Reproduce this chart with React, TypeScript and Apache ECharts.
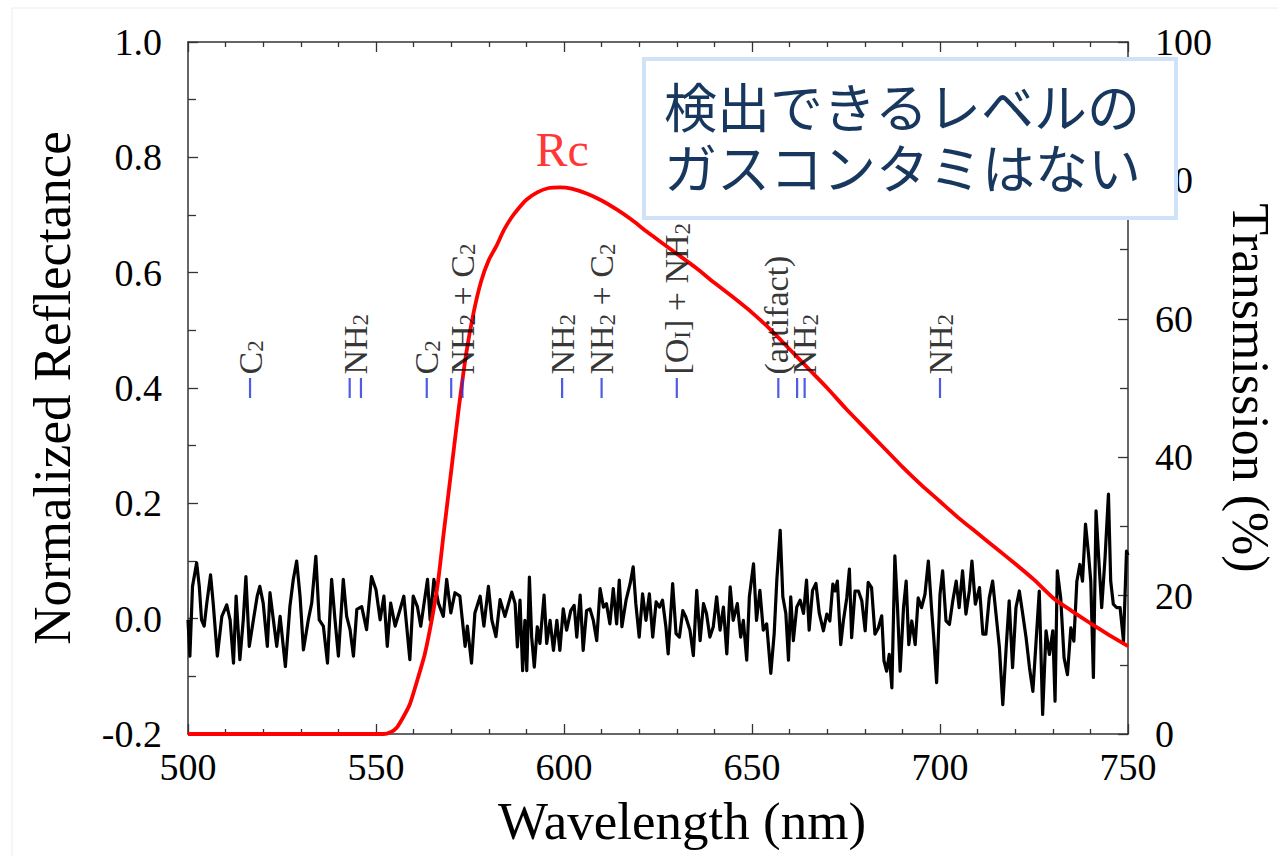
import React, { useEffect, useRef } from "react";
import * as echarts from "echarts";

// ---------- data ----------
const xMin = 500;
const xMax = 750;
const reflMin = -0.2;
const reflMax = 1.0;
const transMin = 0;
const transMax = 100;

// Normalized reflectance (black, noisy) [wavelength nm, reflectance]
const reflectanceData: [number, number][] = [
  [500.0, -0.002], [500.5, -0.065], [501.2, 0.056], [502.3, 0.097], [503.0, 0.056], [503.6, -0.002],
  [504.3, -0.013], [505.0, 0.027], [506.0, 0.076], [506.7, 0.027], [507.8, -0.065], [509.0, 0.004],
  [510.3, 0.024], [511.2, -0.002], [512.1, -0.077], [512.8, 0.039], [513.8, -0.071], [514.7, -0.002],
  [515.4, 0.073], [516.3, -0.048], [517.4, -0.002], [518.4, 0.039], [519.1, 0.056], [520.0, 0.027],
  [521.1, -0.048], [521.8, 0.045], [522.7, -0.002], [523.6, -0.048], [524.5, 0.004], [525.9, -0.083],
  [527.1, 0.021], [528.0, 0.068], [528.9, 0.1], [529.8, 0.039], [530.7, -0.054], [532.0, -0.002],
  [532.9, 0.027], [534.0, 0.108], [534.9, -0.002], [536.0, -0.013], [537.1, -0.077], [538.2, 0.068],
  [539.1, -0.002], [540.0, -0.065], [541.3, 0.068], [542.2, 0.004], [543.1, -0.019], [544.0, -0.065],
  [544.9, 0.016], [546.2, 0.021], [547.5, -0.019], [548.8, 0.073], [550.0, 0.05], [551.1, -0.002],
  [552.1, 0.039], [553.0, -0.048], [553.9, 0.027], [555.1, -0.013], [556.4, 0.016], [557.4, 0.039],
  [559.0, -0.071], [559.9, 0.039], [561.0, 0.021], [561.9, -0.013], [563.7, 0.068], [564.4, -0.002],
  [565.4, 0.068], [566.6, 0.027], [567.9, 0.004], [568.8, 0.068], [569.9, 0.01], [571.0, 0.045],
  [572.3, 0.039], [573.7, -0.048], [574.3, -0.013], [575.4, -0.077], [576.3, 0.01], [577.7, 0.039],
  [578.7, -0.013], [579.9, 0.056], [580.8, -0.002], [581.9, -0.031], [583.0, 0.033], [584.3, 0.004],
  [586.1, 0.046], [587.0, 0.026], [587.6, -0.049], [588.3, 0.032], [589.0, -0.09], [589.6, -0.003],
  [590.1, -0.09], [590.8, 0.072], [591.4, -0.032], [592.1, -0.084], [592.9, -0.014], [593.6, -0.043],
  [594.7, 0.041], [595.4, -0.043], [596.3, -0.003], [597.2, -0.055], [598.1, -0.003], [598.9, -0.055],
  [599.8, 0.017], [600.7, -0.02], [601.8, 0.014], [602.7, 0.023], [603.4, -0.032], [604.3, 0.041],
  [605.1, -0.055], [606.0, 0.014], [606.9, 0.017], [607.8, -0.003], [608.7, -0.038], [609.6, 0.052],
  [610.5, 0.02], [611.3, 0.026], [612.2, -0.009], [613.1, 0.052], [614.0, -0.009], [614.7, 0.067],
  [615.4, -0.014], [616.5, 0.032], [617.6, 0.061], [618.4, 0.09], [619.1, 0.026], [620.0, -0.032],
  [620.9, 0.043], [621.8, -0.003], [622.7, 0.043], [623.6, -0.032], [624.5, 0.029], [625.4, 0.02],
  [626.2, 0.032], [627.1, -0.014], [627.7, -0.061], [628.9, 0.061], [629.8, -0.026], [630.7, -0.032],
  [631.6, 0.014], [632.4, 0.003], [633.5, -0.02], [634.4, -0.064], [635.3, 0.049], [636.2, -0.038],
  [637.1, 0.026], [637.9, 0.009], [638.8, -0.032], [639.7, -0.014], [640.6, 0.038], [641.5, -0.02],
  [642.4, 0.02], [643.3, -0.061], [644.2, 0.055], [645.0, -0.003], [646.1, 0.026], [647.0, -0.032],
  [647.7, -0.003], [648.6, -0.072], [649.3, 0.038], [650.4, 0.095], [651.2, -0.003], [652.1, 0.049],
  [653.0, -0.02], [653.9, -0.009], [655.0, -0.095], [655.9, -0.026], [656.6, 0.067], [657.5, 0.153],
  [658.2, 0.038], [659.0, 0.009], [659.7, -0.072], [660.3, 0.038], [661.0, -0.038], [661.9, 0.02],
  [662.8, 0.032], [663.7, 0.009], [664.5, 0.067], [665.2, -0.02], [666.1, 0.049], [667.0, 0.061],
  [667.9, 0.009], [669.0, -0.021], [669.9, 0.008], [670.7, -0.004], [671.5, 0.06], [672.1, 0.048],
  [672.7, 0.065], [673.6, -0.045], [674.3, -0.004], [675.2, 0.036], [675.9, 0.086], [676.5, -0.033],
  [677.4, 0.048], [678.3, 0.048], [679.2, 0.031], [680.1, -0.021], [680.9, 0.063], [681.8, 0.054],
  [682.7, -0.027], [683.6, -0.016], [684.5, 0.005], [685.1, -0.073], [685.8, -0.091], [686.5, -0.062],
  [687.2, -0.12], [688.0, 0.109], [688.7, 0.019], [689.4, -0.091], [690.3, 0.019], [691.0, 0.065],
  [691.7, -0.045], [692.5, -0.004], [693.4, -0.045], [694.2, 0.036], [695.1, 0.019], [696.0, 0.042],
  [696.9, 0.1], [697.8, 0.013], [698.4, -0.039], [699.1, -0.111], [700.0, 0.042], [700.7, 0.083],
  [701.6, -0.004], [702.5, -0.01], [703.4, 0.031], [704.3, 0.065], [705.1, 0.019], [706.0, 0.083],
  [706.9, 0.008], [707.8, 0.048], [708.5, 0.1], [709.4, 0.025], [710.5, 0.054], [711.4, -0.027],
  [712.2, -0.027], [713.1, 0.036], [714.0, 0.065], [714.9, 0.008], [715.8, -0.05], [716.7, -0.149],
  [717.6, -0.05], [718.4, 0.031], [719.3, -0.085], [720.2, 0.019], [721.1, 0.048], [722.0, 0.008],
  [722.9, -0.033], [723.8, -0.085], [724.7, -0.126], [725.5, -0.045], [726.4, 0.048], [727.3, -0.166],
  [728.2, -0.021], [729.1, -0.062], [730.0, -0.021], [730.6, -0.143], [731.2, 0.083], [732.1, 0.036],
  [733.0, -0.068], [733.9, -0.097], [734.8, -0.016], [735.6, -0.039], [736.4, 0.065], [737.2, 0.094],
  [737.9, 0.065], [738.7, 0.164], [739.5, 0.112], [740.1, 0.065], [740.8, -0.102], [741.5, 0.187],
  [742.2, 0.106], [743.0, 0.019], [743.9, 0.106], [744.8, 0.216], [745.4, 0.065], [746.1, 0.025],
  [747.0, 0.019], [747.9, 0.019], [748.8, -0.039], [749.6, 0.117], [750.0, 0.11],
];

// Rc filter transmission (red) [wavelength nm, transmission %]
const rcTransmissionData: [number, number][] = [
  [500, 0], [552, 0], [554, 0.3], [555.5, 0.9], [557, 2.2], [559, 4.3], [561, 7.8], [563, 11.6],
  [565, 17], [566.5, 22], [568, 29], [570, 38], [572, 47], [574, 55], [576, 61], [578, 65.5],
  [580, 68.5], [582, 70.5], [584, 72.8], [586, 74.6], [588, 76], [590, 77.2], [593, 78.3],
  [596, 78.9], [599, 79], [602, 78.8], [606, 78.1], [610, 77.1], [614, 75.8], [618, 74.3],
  [622, 72.6], [626, 71], [630, 69.4], [635, 67.4], [640, 65.2], [645, 63.1], [650, 60.9],
  [655, 58.4], [660, 55.6], [665, 52.8], [670, 50], [675, 47], [680, 44.2], [685, 41.4],
  [690, 38.6], [695, 36], [700, 33.6], [705, 31.2], [710, 29], [715, 26.8], [720, 24.6],
  [725, 22.3], [730, 19.7], [735, 17.8], [740, 16], [745, 14.3], [750, 12.7],
];

// Emission line markers (blue ticks) and their identifications
const lineMarkWavelengths = [516.5, 543, 546, 563.5, 570, 573, 599.5, 610, 630, 657, 662, 664, 700];
const lineMarkLevel = 0.4;
const lineLabelWavelengths = [516.5, 544.5, 563.5, 573, 599.5, 610, 630, 656.5, 664, 700];
const lineLabelTexts = [
  "{n|C}{s|2}",
  "{n|NH}{s|2}",
  "{n|C}{s|2}",
  "{n|NH}{s|2}{n| + C}{s|2}",
  "{n|NH}{s|2}",
  "{n|NH}{s|2}{n| + C}{s|2}",
  "{n|[O}{s|I}{n|] + NH}{s|2}",
  "{n|(artifact)}",
  "{n|NH}{s|2}",
  "{n|NH}{s|2}",
];

const rcLabel = { text: "Rc", wavelength: 599.5, transmission: 84.4 };
const noteLines = ["検出できるレベルの", "ガスコンタミはない"];

const xLabel = "Wavelength (nm)";
const yLeftLabel = "Normalized Reflectance";
const yRightLabel = "Transmission (%)";

// ---------- styles ----------
const SERIF = "'Liberation Serif', 'Times New Roman', serif";
const AXIS_COLOR = "#333333";

export default function App() {
  const ref = useRef<HTMLDivElement>(null);

  useEffect(() => {
    document.body.style.margin = "0";
    const chart = echarts.init(ref.current!, null, { renderer: "svg" });

    const axisLine = { show: true, onZero: false, lineStyle: { color: AXIS_COLOR, width: 1.5 } };
    const axisTick = { show: true, inside: true, length: 10, lineStyle: { color: AXIS_COLOR, width: 1.3 } };
    const minorTickStyle = { color: AXIS_COLOR, width: 1.3 };
    const tickLabel = { color: "#000", fontFamily: SERIF, fontSize: 38 };

    const option: any = {
      animation: false,
      backgroundColor: "#ffffff",
      grid: { left: 188, right: 150, top: 42, bottom: 122, containLabel: false, outerBoundsMode: "none" },
      xAxis: [
        {
          type: "value",
          min: xMin,
          max: xMax,
          interval: 50,
          position: "bottom",
          axisLine,
          axisTick,
          minorTick: { show: true, splitNumber: 5, length: 5, lineStyle: minorTickStyle },
          splitLine: { show: false },
          axisLabel: { ...tickLabel, margin: 14 },
          name: xLabel,
          nameLocation: "middle",
          nameGap: 60,
          nameTextStyle: { color: "#000", fontFamily: SERIF, fontSize: 53, padding: [0, 0, 0, 48] },
        },
        {
          type: "value",
          min: xMin,
          max: xMax,
          interval: 50,
          position: "top",
          axisLine,
          axisTick,
          minorTick: { show: true, splitNumber: 5, length: 5, lineStyle: minorTickStyle },
          splitLine: { show: false },
          axisLabel: { show: false },
        },
      ],
      yAxis: [
        {
          type: "value",
          min: reflMin,
          max: reflMax,
          interval: 0.2,
          position: "left",
          axisLine,
          axisTick,
          minorTick: { show: true, splitNumber: 2, length: 8, lineStyle: minorTickStyle },
          splitLine: { show: false },
          axisLabel: { ...tickLabel, margin: 26, formatter: (v: number) => v.toFixed(1) },
          name: yLeftLabel,
          nameLocation: "middle",
          nameGap: 110,
          nameTextStyle: { color: "#000", fontFamily: SERIF, fontSize: 53 },
        },
        {
          type: "value",
          min: transMin,
          max: transMax,
          interval: 20,
          position: "right",
          axisLine,
          axisTick,
          minorTick: { show: true, splitNumber: 2, length: 8, lineStyle: minorTickStyle },
          splitLine: { show: false },
          axisLabel: { ...tickLabel, margin: 27 },
          name: yRightLabel,
          nameLocation: "middle",
          nameRotate: -90,
          nameGap: 96,
          nameTextStyle: { color: "#000", fontFamily: SERIF, fontSize: 52 },
        },
      ],
      series: [
        {
          name: "Normalized Reflectance",
          type: "line",
          xAxisIndex: 0,
          yAxisIndex: 0,
          data: reflectanceData,
          showSymbol: false,
          lineStyle: { color: "#000", width: 3.2, join: "round" },
          z: 2,
        },
        {
          name: "Rc",
          type: "line",
          xAxisIndex: 0,
          yAxisIndex: 1,
          data: rcTransmissionData,
          showSymbol: false,
          smooth: 0.2,
          lineStyle: { color: "#ff0000", width: 3.8 },
          z: 3,
        },
        {
          name: "line marks",
          type: "scatter",
          xAxisIndex: 0,
          yAxisIndex: 0,
          data: lineMarkWavelengths.map((w) => [w, lineMarkLevel]),
          symbol: "rect",
          symbolSize: [2.2, 20],
          itemStyle: { color: "#2233dd" },
          z: 4,
        },
        {
          name: "line ids",
          type: "scatter",
          xAxisIndex: 0,
          yAxisIndex: 0,
          data: lineLabelWavelengths.map((w, i) => ({
            value: [w, lineMarkLevel],
            label: { formatter: lineLabelTexts[i] },
          })),
          symbol: "circle",
          symbolSize: 1,
          itemStyle: { color: "rgba(0,0,0,0)" },
          label: {
            show: true,
            position: "top",
            distance: 13,
            rotate: 90,
            align: "left",
            verticalAlign: "middle",
            rich: {
              n: { fontFamily: SERIF, fontSize: 34, color: "#000", lineHeight: 34, verticalAlign: "top" },
              s: {
                fontFamily: SERIF,
                fontSize: 23,
                color: "#000",
                lineHeight: 23,
                verticalAlign: "bottom",
                padding: [17, 0, 0, 0],
              },
            },
          },
          z: 5,
        },
        {
          name: "Rc label",
          type: "scatter",
          xAxisIndex: 0,
          yAxisIndex: 1,
          data: [[rcLabel.wavelength, rcLabel.transmission]],
          symbolSize: 1,
          itemStyle: { color: "rgba(0,0,0,0)" },
          label: {
            show: true,
            position: "inside",
            formatter: rcLabel.text,
            fontFamily: SERIF,
            fontSize: 48,
            color: "#ff0000",
          },
          z: 5,
        },
      ],
      graphic: [
        {
          type: "rect",
          z: -10,
          silent: true,
          shape: { x: 12, y: 8, width: 1400, height: 1000 },
          style: { fill: "none", stroke: "#ececec", lineWidth: 1 },
        },
        {
          type: "rect",
          z: 100,
          shape: { x: 644, y: 59, width: 532, height: 159 },
          style: { fill: "#ffffff", stroke: "#cfe2f8", lineWidth: 4 },
        },
        {
          type: "text",
          z: 101,
          x: 664,
          y: 74,
          style: {
            text: noteLines.join("\n"),
            fill: "#17375e",
            font: "53px 'Noto Sans CJK JP'",
            lineHeight: 61,
          },
        },
      ],
    };

    chart.setOption(option);
    return () => chart.dispose();
  }, []);

  return <div ref={ref} style={{ width: 1278, height: 856 }} />;
}
